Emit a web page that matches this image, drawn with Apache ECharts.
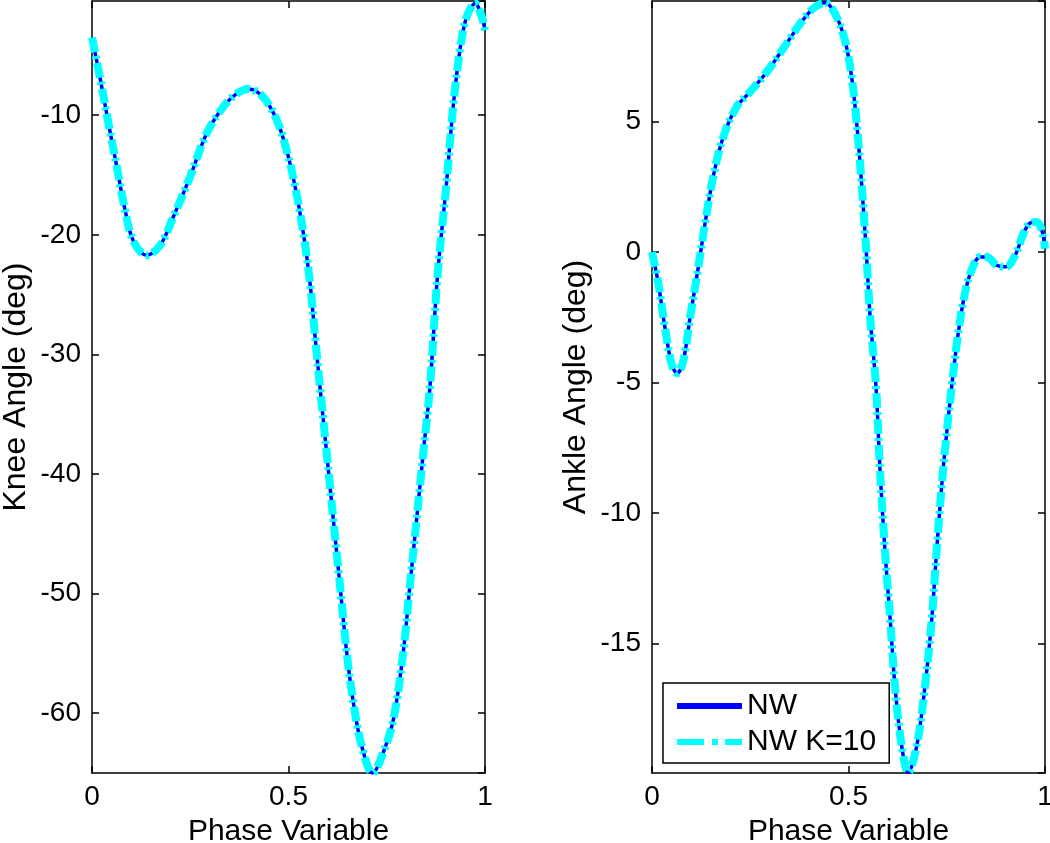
<!DOCTYPE html>
<html>
<head>
<meta charset="utf-8">
<script src="https://cdn.jsdelivr.net/npm/echarts@6/dist/echarts.min.js"></script>
<style>
html,body{margin:0;padding:0;background:#fff;overflow:hidden;width:1050px;height:843px;}
#chart{width:1050px;height:843px;}
</style>
</head>
<body>
<div id="chart"></div>
<script>
// ---- data ----
const kneePhase = [0.000,0.020,0.042,0.063,0.084,0.105,0.139,0.173,0.207,0.249,0.292,0.334,0.368,0.398,0.436,0.470,0.495,0.517,0.538,0.555,0.567,0.580,0.597,0.614,0.631,0.648,0.665,0.686,0.714,0.741,0.767,0.792,0.809,0.826,0.843,0.860,0.879,0.902,0.919,0.936,0.953,0.975,0.992,1.000];
const kneeNW    = [-3.5,-6.8,-10.7,-14.3,-17.9,-20.5,-21.7,-20.9,-18.5,-15.2,-11.5,-9.3,-8.2,-7.8,-8.5,-10.4,-12.9,-16.0,-19.9,-24.1,-28.3,-32.7,-38.2,-43.8,-49.3,-54.9,-59.1,-62.7,-65.0,-63.3,-60.5,-54.9,-49.3,-43.8,-38.2,-32.7,-23.5,-15.7,-9.3,-4.6,-1.8,-0.65,-1.8,-2.9];
const kneeK10   = [-3.5,-6.8,-10.7,-14.3,-17.9,-20.5,-21.7,-20.9,-18.5,-15.2,-11.5,-9.3,-8.2,-7.8,-8.5,-10.4,-12.9,-16.0,-19.9,-24.1,-28.3,-32.7,-38.2,-43.8,-49.3,-54.9,-59.1,-62.7,-65.0,-63.3,-60.5,-54.9,-49.3,-43.8,-38.2,-32.7,-23.5,-15.7,-9.3,-4.6,-1.8,-0.65,-1.8,-2.9];

const anklePhase = [0.000,0.016,0.033,0.050,0.064,0.080,0.097,0.118,0.135,0.156,0.181,0.215,0.249,0.292,0.334,0.377,0.410,0.440,0.466,0.491,0.508,0.521,0.534,0.545,0.555,0.570,0.580,0.593,0.606,0.618,0.635,0.652,0.674,0.695,0.712,0.724,0.741,0.763,0.779,0.796,0.813,0.835,0.852,0.877,0.901,0.924,0.945,0.962,0.979,0.992,1.000];
const ankleNW    = [0.0,-1.2,-2.9,-4.3,-4.65,-4.15,-2.5,-0.57,1.1,2.9,4.4,5.56,6.13,6.9,7.8,8.75,9.33,9.55,9.13,8.11,6.71,4.92,2.49,0.07,-2.49,-5.17,-8.3,-11.5,-14.05,-16.6,-18.9,-19.95,-18.9,-16.6,-14.05,-11.5,-8.3,-5.1,-3.13,-1.6,-0.7,-0.19,-0.19,-0.51,-0.57,-0.13,0.7,1.11,1.15,0.83,0.13];
const ankleK10   = [0.0,-1.2,-2.9,-4.3,-4.65,-4.15,-2.5,-0.57,1.1,2.9,4.4,5.56,6.13,6.9,7.8,8.75,9.33,9.55,9.13,8.11,6.71,4.92,2.49,0.07,-2.49,-5.17,-8.3,-11.5,-14.05,-16.6,-18.9,-19.95,-18.9,-16.6,-14.05,-11.5,-8.3,-5.1,-3.13,-1.6,-0.7,-0.19,-0.19,-0.51,-0.57,-0.13,0.7,1.11,1.15,0.83,0.13];

const seriesNames = ['NW', 'NW K=10'];
const xTickLabels = ['0', '0.5', '1'];
const kneeRange = [-65.0, -0.45];
const ankleRange = [-19.97, 9.62];
const yLabels = ['Knee Angle (deg)', 'Ankle Angle (deg)'];
const xLabel = 'Phase Variable';

// ---- chart ----
const FONT = '"Liberation Sans", Arial, sans-serif';
const pairs = (xs, ys) => xs.map((x, i) => [x, ys[i]]);
const axisLine = { show: true, onZero: false, lineStyle: { color: '#000', width: 1.5 } };
const tick = { show: true, inside: true, length: 7, lineStyle: { color: '#000', width: 1.5 } };

function xAxes(gi) {
  return [
    { type: 'value', gridIndex: gi, position: 'bottom', min: 0, max: 1, interval: 0.5,
      axisLine, axisTick: tick, splitLine: { show: false },
      axisLabel: { color: '#000', fontSize: 28, fontFamily: FONT, margin: 10,
        formatter: v => { const i = Math.round(v * 2); return Math.abs(v * 2 - i) < 1e-9 ? xTickLabels[i] : ''; } },
      name: xLabel, nameLocation: 'middle', nameGap: 44,
      nameTextStyle: { color: '#000', fontSize: 30, fontFamily: FONT } },
    { type: 'value', gridIndex: gi, position: 'top', min: 0, max: 1, interval: 0.5,
      axisLine, axisTick: tick, axisLabel: { show: false }, splitLine: { show: false } }
  ];
}
function yAxes(gi, range, step, name) {
  const fmt = v => (Math.abs(v / step - Math.round(v / step)) < 1e-6 ? String(Math.round(v)) : '');
  return [
    { type: 'value', gridIndex: gi, position: 'left', min: range[0], max: range[1], splitNumber: Math.round((range[1]-range[0]) / step),
      axisLine, axisTick: tick, splitLine: { show: false },
      axisLabel: { color: '#000', fontSize: 28, fontFamily: FONT, margin: 11, formatter: fmt, showMinLabel: false, showMaxLabel: false },
      name: name, nameLocation: 'middle', nameGap: 60, nameRotate: 90,
      nameTextStyle: { color: '#000', fontSize: 32, fontFamily: FONT } },
    { type: 'value', gridIndex: gi, position: 'right', min: range[0], max: range[1], splitNumber: Math.round((range[1]-range[0]) / step),
      axisLine, axisTick: tick, axisLabel: { show: false }, splitLine: { show: false } }
  ];
}
function lineSeries(gi, xs, nw, k10) {
  return [
    { name: seriesNames[0], type: 'line', xAxisIndex: gi * 2, yAxisIndex: gi * 2, data: pairs(xs, nw),
      smooth: 0.35, symbol: 'none', z: 2, lineStyle: { color: '#0000ff', width: 3.5 }, itemStyle: { color: '#0000ff' } },
    { name: seriesNames[1], type: 'line', xAxisIndex: gi * 2, yAxisIndex: gi * 2, data: pairs(xs, k10),
      smooth: 0.35, symbol: 'none', z: 3, lineStyle: { color: '#00ffff', width: 8, type: [15, 4, 3, 4] }, itemStyle: { color: '#00ffff' } }
  ];
}

const chart = echarts.init(document.getElementById('chart'), null, { renderer: 'canvas', width: 1050, height: 843 });
chart.setOption({
  backgroundColor: '#fff',
  animation: false,
  grid: [
    { left: 92, top: 1, width: 393, height: 772, containLabel: false, outerBoundsMode: 'none' },
    { left: 652, top: 1, width: 393, height: 772, containLabel: false, outerBoundsMode: 'none' }
  ],
  xAxis: [...xAxes(0), ...xAxes(1)],
  yAxis: [...yAxes(0, kneeRange, 10, yLabels[0]), ...yAxes(1, ankleRange, 5, yLabels[1])],
  legend: {
    left: 663, top: 683, orient: 'vertical', itemGap: 6, itemWidth: 65, itemHeight: 6,
    padding: [8, 13, 6, 14],
    backgroundColor: '#fff', borderColor: '#000', borderWidth: 1.5, borderRadius: 0,
    textStyle: { color: '#000', fontSize: 30, fontFamily: FONT, lineHeight: 30 },
    data: [
      { name: seriesNames[0], icon: 'path://M0,0 L65,0 L65,6 L0,6 Z', itemStyle: { color: '#0000ff' } },
      { name: seriesNames[1], icon: 'path://M0,0 h27 v6 h-27 Z M35,0 h6 v6 h-6 Z M48,0 h17 v6 h-17 Z', itemStyle: { color: '#00ffff' } }
    ]
  },
  series: [...lineSeries(0, kneePhase, kneeNW, kneeK10), ...lineSeries(1, anklePhase, ankleNW, ankleK10)]
});
</script>
</body>
</html>
